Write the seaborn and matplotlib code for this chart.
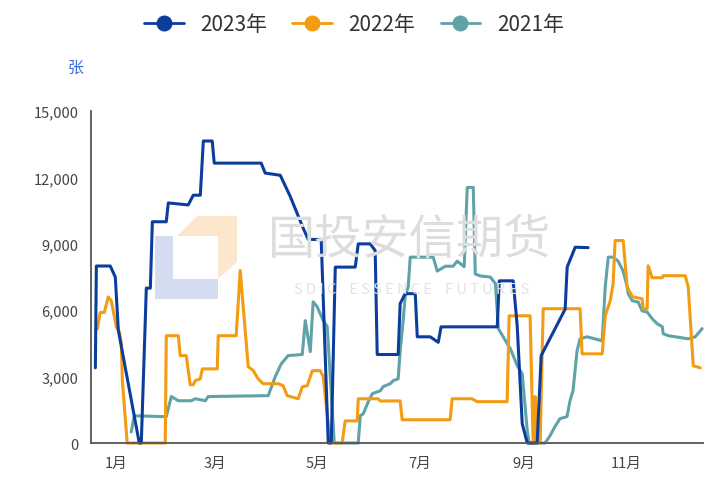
import pandas as pd
import matplotlib.pyplot as plt
import seaborn as sns
from matplotlib.lines import Line2D
from matplotlib.patches import Polygon

# day of year / value pairs
days_2023 = [2.6, 3.2, 11.5, 14.5, 16.3, 28.8, 30, 33, 35.4, 36.6, 44.9, 46.1, 58, 61, 65.2,
             67, 72.3, 73.5, 101.5, 103.9, 112.9, 118.8, 126.6, 129.6, 137.3, 141.5, 143.3,
             145.7, 157.6, 159.4, 166.5, 169.5, 170.7, 183.2, 184.4, 187.4, 193.4, 194.6,
             202.3, 207.1, 208.8, 242.3, 243.5, 251.8, 254.2, 257.2, 260.2, 266.1, 268.5,
             282.8, 284, 288.8, 296.5]
vals_2023 = [3400, 8000, 8000, 7500, 5100, 0, 0, 7000, 7000, 10000, 10000, 10850, 10760, 11200,
             11200, 13650, 13650, 12650, 12650, 12200, 12100, 11150, 9700, 9200, 9200, 0, 0,
             7950, 7950, 9000, 9000, 8700, 4000, 4000, 6300, 6750, 6750, 4800, 4800, 4550,
             5250, 5250, 7330, 7330, 5300, 870, 0, 0, 3950, 6050, 7950, 8850, 8830]

days_2022 = [3.8, 5.5, 7.9, 10.3, 12.1, 15.1, 16.9, 18.1, 18.7, 21.6, 44.3, 44.9, 52.1, 53.2,
             56.8, 59.2, 61, 62.2, 65.2, 66.4, 75.3, 75.9, 86.6, 89, 91.4, 93.8, 96.8, 99.7,
             102.7, 111.7, 114.6, 117, 123.6, 126, 129, 132, 136.7, 138.5, 142.7, 149.8, 151.6,
             158.8, 159.4, 171.3, 172.5, 184.4, 185.6, 214.2, 215.4, 227.3, 230.3, 248.2, 249.4,
             261.9, 263.7, 264.3, 264.9, 266.1, 267.9, 269.7, 291.7, 292.9, 304.9, 306.7, 309.7,
             311.4, 312.6, 317.4, 319.8, 322.8, 328.7, 329.3, 331.7, 332.3, 334.7, 340.7, 341.3,
             354.4, 356.2, 359.2, 363.4]
vals_2022 = [5150, 5900, 5900, 6600, 6430, 5250, 5030, 4490, 2820, 0, 0, 4850, 4850, 3950, 3950,
             2630, 2630, 2820, 2900, 3350, 3350, 4850, 4850, 7800, 5600, 3450, 3270, 2900, 2680,
             2680, 2590, 2140, 2000, 2540, 2590, 3270, 3270, 3000, 0, 0, 1000, 1000, 2000, 2000,
             1900, 1900, 1050, 1050, 2000, 2000, 1870, 1870, 5750, 5750, 0, 0, 2100, 0, 0, 6070,
             6070, 4030, 4030, 5750, 6430, 7200, 9150, 9150, 7060, 6610, 6520, 6070, 6070, 8010,
             7470, 7470, 7560, 7560, 7060, 3490, 3400]

days_2021 = [24, 25.8, 44.9, 47.9, 52.1, 59.8, 62.2, 68.2, 69.9, 105.7, 109.9, 113.5, 117.6, 126,
             127.8, 130.8, 132.5, 134.9, 138.5, 140.9, 145.1, 159.4, 160.6, 162.4, 165.4, 167.8,
             172.5, 174.3, 178.5, 180.3, 183.2, 184.4, 186.2, 187.4, 189.2, 190.4, 204.1, 206.5,
             211.3, 216, 218.4, 222.6, 224.4, 228, 229.2, 232.2, 238.2, 241.2, 243, 250.2, 251.9,
             254.2, 257.2, 260.2, 261.3, 270.8, 273.8, 276.7, 279.7, 283.9, 285.7, 287.5, 289.9,
             291.7, 295.9, 304.9, 306.7, 308.5, 311.4, 314.4, 317.4, 319.8, 320.4, 322.8, 326.4,
             328.7, 331.7, 334.7, 337.7, 340.7, 341.3, 344.3, 348.5, 356.2, 360.4, 364.5]
vals_2021 = [500, 1230, 1190, 2100, 1910, 1910, 2000, 1910, 2100, 2140, 3000, 3580, 3950, 4000,
             5530, 4130, 6380, 6160, 5530, 5260, 0, 0, 1230, 1320, 1870, 2230, 2360, 2550, 2680,
             2820, 2900, 4170, 5530, 6620, 7060, 8400, 8400, 7770, 7990, 7990, 8220, 7970, 11550,
             11550, 7640, 7550, 7500, 7200, 5160, 4250, 3930, 3500, 3130, 560, 0, 0, 330, 740,
             1100, 1190, 1910, 2370, 4170, 4710, 4800, 4620, 7060, 8400, 8400, 8220, 7770, 7060,
             6750, 6430, 6370, 5970, 5920, 5620, 5390, 5260, 4940, 4850, 4800, 4710, 4800, 5170]

years = ['2023年', '2022年', '2021年']
colors = {'2023年': '#0b3d9c', '2022年': '#f39c12', '2021年': '#5fa3a8'}

month_ticks = [0, 59, 120, 181, 243, 304, 365]
month_labels = ['1月', '3月', '5月', '7月', '9月', '11月']
y_ticks = [0, 3000, 6000, 9000, 12000, 15000]

df = pd.concat([
    pd.DataFrame({'day': days_2021, 'value': vals_2021, 'year': '2021年'}),
    pd.DataFrame({'day': days_2022, 'value': vals_2022, 'year': '2022年'}),
    pd.DataFrame({'day': days_2023, 'value': vals_2023, 'year': '2023年'}),
])

sns.set_style('white')
plt.rcParams['font.family'] = ['Noto Sans CJK SC', 'DejaVu Sans']

fig = plt.figure(figsize=(7.07, 4.81), dpi=100)
ax = fig.add_axes([0.1287, 0.0769, 0.8656, 0.690])


def px(x, y):
    return (x / 707, 1 - y / 481)


# watermark logo + text
fig.patches.append(Polygon([px(155, 237), px(173, 237), px(173, 280), px(218, 280), px(218, 300), px(155, 300)],
                           closed=True, transform=fig.transFigure, facecolor='#d3ddef', edgecolor='none', zorder=0))
fig.patches.append(Polygon([px(177, 237), px(197, 217), px(237, 217), px(237, 263), px(218, 280), px(218, 237)],
                           closed=True, transform=fig.transFigure, facecolor='#fce7cc', edgecolor='none', zorder=0))
fig.text(*px(410, 241), '国投安信期货', fontsize=34, color='#dddddd', ha='center', va='center', zorder=0)
fig.text(*px(412, 290), 'S D I C    E S S E N C E    F U T U R E S', fontsize=10.5, color='#e3e3e3',
         ha='center', va='center', zorder=0)
ax.patch.set_alpha(0)

sns.lineplot(data=df, x='day', y='value', hue='year', palette=colors, estimator=None, sort=False,
             linewidth=2.2, legend=False, ax=ax)
for ln in ax.get_lines():
    ln.set_clip_on(False)

ax.set_xlim(0, 365)
ax.set_ylim(0, 15000)
ax.set_xticks(month_ticks)
ax.set_xticklabels([])
ax.set_xticks([t + 15 for t in month_ticks[:-1]], minor=True)
ax.set_xticklabels(month_labels, minor=True, fontsize=10.5, color='#444444')
ax.tick_params(axis='x', which='major', length=6, width=1.2, color='#555555', direction='out')
ax.tick_params(axis='x', which='minor', length=0, pad=9)
ax.set_yticks(y_ticks)
ax.set_yticklabels([f'{v:,}' for v in y_ticks], fontsize=10.5, color='#444444')
ax.tick_params(axis='y', length=5, width=1.2, color='#555555', direction='out', pad=4)
ax.set_xlabel('')
ax.set_ylabel('')
sns.despine(ax=ax)
for s in ['left', 'bottom']:
    ax.spines[s].set_color('#555555')
    ax.spines[s].set_linewidth(1.3)

fig.text(*px(76, 68), '张', fontsize=11.5, color='#3f6fd8', ha='center', va='center')

handles = [Line2D([0], [0], color=colors[y], linewidth=2, marker='o', markersize=10.5) for y in years]
fig.legend(handles, years, loc='center', bbox_to_anchor=px(354, 25), ncol=3, frameon=False,
           fontsize=15, handlelength=1.9, handletextpad=0.8, columnspacing=1.2,
           labelcolor='#333333')

plt.savefig('out.png', dpi=100)
